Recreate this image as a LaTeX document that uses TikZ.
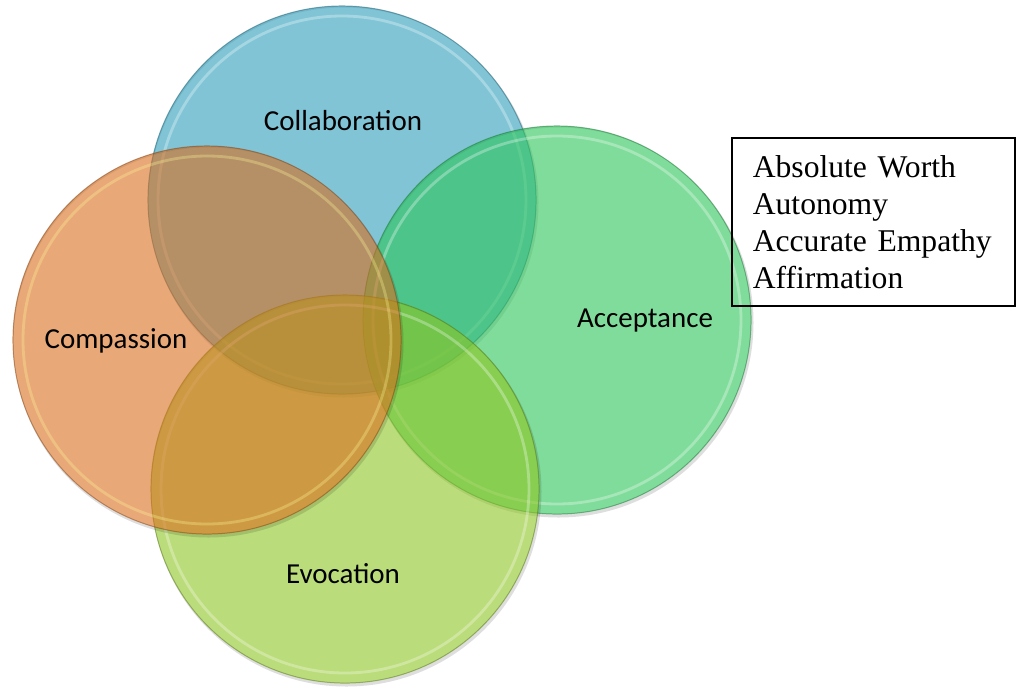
\documentclass[tikz,border=0pt]{standalone}
\usepackage{fontspec}
\setmainfont{Liberation Serif}
\newfontfamily\labelfont{Carlito}

% base colours of the four translucent discs
\definecolor{collabC}{RGB}{43,157,187}
\definecolor{acceptC}{RGB}{43,197,88}
\definecolor{evokeC}{RGB}{140,197,33}
\definecolor{compC}{RGB}{217,110,30}

\begin{document}
\begin{tikzpicture}[x=0.025cm,y=-0.025cm,
  venn/.style={circle, minimum size=9.7cm, inner sep=0pt,
    fill opacity=0.6, draw opacity=0.5, line width=0.7pt},
  ring/.style={line width=2pt, draw opacity=0.3},
  rimshadow/.style={black, fill opacity=0.13, even odd rule},
  lbl/.style={font=\labelfont\fontsize{20.6}{24}\selectfont, text=black},
  listbox/.style={draw=black, line width=1.1pt, anchor=north west,
    inner xsep=0.525cm, inner ysep=0pt, text width=6.025cm,
    minimum height=4.2cm, align=left,
    font=\fontsize{22.5}{26.3}\selectfont},
]
\useasboundingbox (0,0) rectangle (1016,692);

% Collaboration (drawn first, lowest)
\fill[rimshadow] (343.5,202.5) circle (195) (342,200) circle (194);
\node[venn, fill=collabC, draw=collabC!60!black] (collab) at (342,200) {};
\draw[white, ring] (collab.center) circle (184);

% Acceptance
\fill[rimshadow] (558.5,322.5) circle (195) (557,320) circle (194);
\node[venn, fill=acceptC, draw=acceptC!60!black] (accept) at (557,320) {};
\draw[white, ring] (accept.center) circle (184);

% Evocation
\fill[rimshadow] (346.5,491.5) circle (195) (345,489) circle (194);
\node[venn, fill=evokeC, draw=evokeC!60!black] (evoke) at (345,489) {};
\draw[white, ring] (evoke.center) circle (184);

% Compassion (drawn last, on top)
\fill[rimshadow] (208.5,342.5) circle (195) (207,340) circle (194);
\node[venn, fill=compC, draw=compC!60!black] (comp) at (207,340) {};
\draw[yellow!40!white, ring] (comp.center) circle (184);

% disc labels
\node[lbl] (collabL) at (343,121) {Collaboration};
\node[lbl] (acceptL) at (645,321) {Acceptance};
\node[lbl] (compL)   at (116,341) {Compassion};
\node[lbl] (evokeL)  at (343,574) {Evocation};

% list of elements
\node[listbox] (list) at (731,137)
  {Absolute Worth\\Autonomy\\Accurate Empathy\\Affirmation};
\end{tikzpicture}
\end{document}
